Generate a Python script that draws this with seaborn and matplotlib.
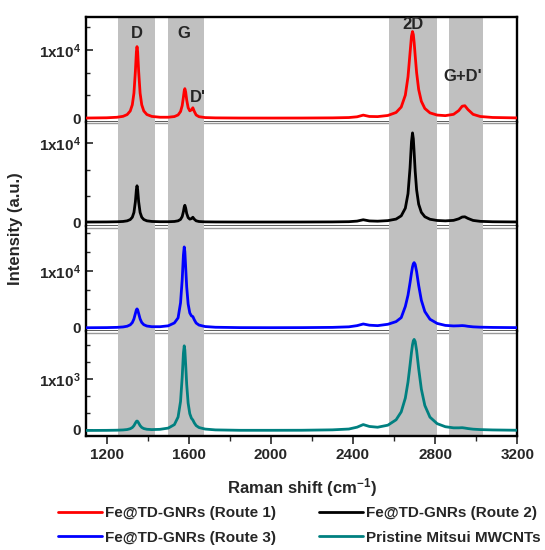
import matplotlib
matplotlib.use("Agg")
import matplotlib.pyplot as plt
import seaborn as sns
import pandas as pd
from matplotlib.ticker import MultipleLocator, FixedLocator
from matplotlib.lines import Line2D

# ---------------- data ----------------
raman_shift = [1100, 1200, 1250, 1280, 1300, 1315, 1325, 1333, 1340, 1345,
               1348, 1351, 1356, 1363, 1371, 1381, 1396, 1420, 1460, 1500,
               1530, 1548, 1560, 1568, 1574, 1578, 1581, 1585, 1590, 1597,
               1605, 1613, 1620, 1627, 1636, 1650, 1680, 1730, 1850, 2000,
               2150, 2300, 2380, 2420, 2450, 2480, 2520, 2570, 2610, 2635,
               2655, 2668, 2678, 2685, 2690, 2694, 2698, 2703, 2710, 2720,
               2733, 2750, 2775, 2810, 2850, 2890, 2915, 2932, 2945, 2960,
               2985, 3020, 3080, 3200]

route1 = [23, 61, 134, 273, 531, 1057, 1962, 3678, 6878, 9779,
          10509, 9779, 6880, 3680, 1965, 1060, 539, 259, 140, 140,
          239, 475, 970, 1836, 3098, 4032, 4336, 3851, 2673, 1542,
          1077, 1217, 1532, 996, 469, 218, 90, 46, 23, 19,
          24, 47, 94, 203, 451, 254, 231, 400, 839, 1636,
          3380, 6070, 9590, 12040, 12720, 12280, 11110, 9200, 6685, 4210,
          2483, 1428, 781, 457, 374, 568, 1112, 1759, 1832, 1270,
          568, 248, 106, 42]

route2 = [8, 19, 40, 80, 158, 321, 613, 1220, 2573, 4143,
          4603, 4143, 2573, 1220, 614, 323, 160, 80, 44, 45,
          78, 161, 342, 699, 1330, 1914, 2127, 1785, 1090, 566,
          376, 443, 612, 366, 161, 73, 30, 17, 8, 7,
          10, 23, 51, 124, 296, 147, 113, 186, 381, 791,
          1762, 3597, 6897, 10178, 11308, 10558, 8808, 6459, 4079, 2270,
          1238, 679, 359, 203, 155, 218, 412, 643, 669, 466,
          211, 94, 42, 17]

route3 = [24, 48, 90, 163, 291, 538, 930, 1576, 2529, 3199,
          3344, 3199, 2534, 1586, 945, 561, 327, 208, 206, 362,
          873, 1762, 4416, 8433, 12842, 14269, 13442, 10688, 7210, 4213,
          2639, 2116, 1991, 1427, 854, 492, 235, 111, 46, 34,
          45, 88, 185, 394, 687, 474, 394, 634, 1104, 1808,
          3777, 5759, 7968, 9687, 10747, 11307, 11503, 11193, 9914, 7484,
          4875, 2881, 1523, 784, 437, 342, 368, 404, 365, 279,
          182, 124, 79, 44]

pristine = [-9, -7, -4, 1, 9, 25, 48, 84, 135, 168,
            175, 168, 135, 86, 50, 28, 14, 8, 13, 37,
            105, 253, 557, 1029, 1500, 1644, 1561, 1274, 888, 524,
            319, 230, 195, 139, 86, 48, 18, 2, -6, -6,
            -5, 3, 19, 55, 106, 69, 54, 94, 199, 354,
            623, 936, 1269, 1517, 1665, 1742, 1769, 1728, 1551, 1198,
            799, 479, 251, 124, 64, 42, 42, 45, 38, 28,
            16, 8, 1, -5]

series_names = ["Fe@TD-GNRs (Route 1)", "Fe@TD-GNRs (Route 2)",
                "Fe@TD-GNRs (Route 3)", "Pristine Mitsui MWCNTs"]
series_values = [route1, route2, route3, pristine]
series_colors = ["#ff0000", "#000000", "#0000ff", "#008080"]

panel_ylims = [(-490, 14900), (-540, 12750), (-580, 17900), (-117, 1930)]
panel_major = [10000, 10000, 10000, 1000]
panel_major_labels = ["1x10$^{4}$", "1x10$^{4}$", "1x10$^{4}$", "1x10$^{3}$"]

bands = [(1257, 1434), (1497, 1674), (2577, 2810), (2869, 3032)]

peak_labels = ["D", "G", "D'", "2D", "G+D'"]
peak_label_x = [1349, 1578, 1646, 2694, 2932]
peak_label_y = [12500, 12500, 3060, 13800, 6160]

x_ticks = [1200, 1600, 2000, 2400, 2800, 3200]

# ---------------- style ----------------
sns.set_style("white")
plt.rcParams["font.family"] = ["Liberation Sans", "DejaVu Sans"]
plt.rcParams["font.weight"] = "bold"
plt.rcParams["axes.labelweight"] = "bold"
plt.rcParams["mathtext.fontset"] = "custom"
plt.rcParams["mathtext.rm"] = "Liberation Sans:bold"
plt.rcParams["mathtext.bf"] = "Liberation Sans:bold"
plt.rcParams["mathtext.it"] = "Liberation Sans:bold"
plt.rcParams["mathtext.default"] = "bf"

fig = plt.figure(figsize=(5.45, 5.5), dpi=100)

left, width = 0.158, 0.791
bottom0 = 0.2073
ph = 0.19058

axes = []
handles = []
for i in range(4):
    ax = fig.add_axes([left, bottom0 + (3 - i) * ph, width, ph])
    axes.append(ax)
    df = pd.DataFrame({"shift": raman_shift, "intensity": series_values[i]})
    for lo, hi in bands:
        ax.axvspan(lo, hi, color="#c0c0c0", lw=0, zorder=1)
    sns.lineplot(data=df, x="shift", y="intensity", ax=ax,
                 color=series_colors[i], lw=2.0, zorder=3, legend=False)
    handles.append(Line2D([0], [0], color=series_colors[i], lw=2.0))
    ax.set_xlim(1100, 3200)
    ax.set_ylim(*panel_ylims[i])
    ax.set_xlabel("")
    ax.set_ylabel("")
    ax.yaxis.set_major_locator(FixedLocator([0, panel_major[i]]))
    ax.set_yticklabels(["0", panel_major_labels[i]])
    ax.yaxis.set_minor_locator(MultipleLocator(panel_major[i] / 3))
    ax.tick_params(axis="y", which="major", direction="in", length=5,
                   width=1.2, labelsize=11, left=True, right=False, pad=4)
    ax.tick_params(axis="y", which="minor", direction="in", length=3,
                   width=1.0, left=True, right=False)
    for s in ["left", "right"]:
        ax.spines[s].set_color("black")
        ax.spines[s].set_linewidth(1.7)
    if i == 0:
        ax.spines["top"].set_color("black")
        ax.spines["top"].set_linewidth(1.7)
    else:
        ax.spines["top"].set_visible(False)
        ax.add_line(Line2D([0, 1], [0.985, 0.985], transform=ax.transAxes,
                           color="#9a9a9a", lw=1.0, zorder=0.5))
    if i < 3:
        ax.spines["bottom"].set_color("#303030")
        ax.spines["bottom"].set_linewidth(1.1)
        ax.spines["bottom"].set_zorder(0.5)
        ax.tick_params(axis="x", which="both", bottom=False, top=False,
                       labelbottom=False)
    else:
        ax.spines["bottom"].set_color("black")
        ax.spines["bottom"].set_linewidth(1.7)
        ax.xaxis.set_major_locator(FixedLocator(x_ticks))
        ax.xaxis.set_minor_locator(MultipleLocator(200))
        ax.tick_params(axis="x", which="major", direction="out", length=6,
                       width=1.2, labelsize=11, bottom=True, top=False, pad=3)
        ax.tick_params(axis="x", which="minor", direction="out", length=3.5,
                       width=1.0, bottom=True, top=False)
        ax.set_xlabel("Raman shift (cm$^{-1}$)", fontsize=12, labelpad=10)

for lab, lx, ly in zip(peak_labels, peak_label_x, peak_label_y):
    axes[0].text(lx, ly, lab, ha="center", va="center", fontsize=12,
                 fontweight="bold", zorder=5)

fig.text(0.029, 0.585, "Intensity (a.u.)", rotation=90, ha="center",
         va="center", fontsize=12, fontweight="bold")

# column-major fill for ncol=2: row 1 = Route 1 / Route 2, row 2 = Route 3 / Pristine
order = [0, 2, 1, 3]
fig.legend([handles[k] for k in order], [series_names[k] for k in order],
           ncol=2, loc="upper left",
           bbox_to_anchor=(58 / 545, 1 - 506 / 550), frameon=False,
           fontsize=11, handlelength=2.9, handletextpad=0.15,
           columnspacing=2.85, labelspacing=0.7, borderaxespad=0,
           borderpad=0)

fig.savefig("out.png", dpi=100)
